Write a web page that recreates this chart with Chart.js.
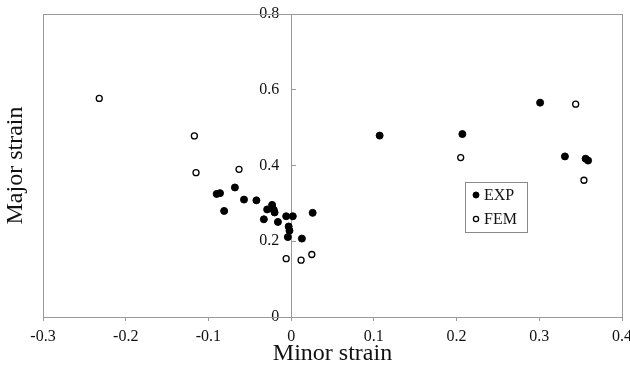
<!DOCTYPE html>
<html>
<head>
<meta charset="utf-8">
<script src="https://cdn.jsdelivr.net/npm/chart.js@4/dist/chart.umd.min.js"></script>
<style>
  html, body { margin: 0; padding: 0; background: #fff; }
  #wrap { width: 630px; height: 373px; position: relative; }
</style>
</head>
<body>
<div id="wrap"><canvas id="c" width="630" height="373"></canvas></div>
<script>
// ---- Data ----
const seriesNames = ["EXP", "FEM"];

const expMinor = [-0.090, -0.086, -0.068, -0.081, -0.057, -0.042, -0.023, -0.029, -0.021, -0.020,
                  -0.033, -0.016, -0.006, 0.002, -0.003, -0.002, -0.004, 0.013, 0.026,
                  0.107, 0.207, 0.301, 0.331, 0.356, 0.359];
const expMajor = [0.325, 0.327, 0.342, 0.280, 0.310, 0.308, 0.296, 0.284, 0.283, 0.276,
                  0.258, 0.251, 0.266, 0.266, 0.239, 0.228, 0.211, 0.207, 0.275,
                  0.479, 0.483, 0.566, 0.424, 0.418, 0.413];

const femMinor = [-0.232, -0.117, -0.115, -0.063, -0.006, 0.012, 0.025, 0.205, 0.344, 0.354];
const femMajor = [0.577, 0.478, 0.381, 0.390, 0.154, 0.150, 0.165, 0.421, 0.562, 0.361];

const xTicks = [-0.3, -0.2, -0.1, 0, 0.1, 0.2, 0.3, 0.4];
const yTicks = [0, 0.2, 0.4, 0.6, 0.8];
const xTitle = "Minor strain";
const yTitle = "Major strain";

// ---- Build ----
const toPts = (xs, ys) => xs.map((x, i) => ({ x: x, y: ys[i] }));
const SERIF = "'Liberation Serif', 'DejaVu Serif', serif";
const AXIS_GRAY = '#9a9a9a';
const Y_LABEL_GAP = 12;   // distance between centred y-axis line and its tick labels

const frame = {
  id: 'frame',
  afterDraw(chart) {
    const a = chart.chartArea, ctx = chart.ctx;
    ctx.save();
    ctx.strokeStyle = AXIS_GRAY;
    ctx.lineWidth = 1;
    ctx.strokeRect(Math.round(a.left) + 0.5, Math.round(a.top) + 0.5,
                   Math.round(a.right - a.left), Math.round(a.bottom - a.top));
    ctx.restore();
  }
};

// push the labels of the centred y axis a little to the left of the axis line
const shiftYLabels = {
  id: 'shiftYLabels',
  beforeDraw(chart) {
    const s = chart.scales.y;
    const items = s.getLabelItems(chart.chartArea);
    if (items._shifted) return;
    items.forEach(it => { it.options.translation[0] -= Y_LABEL_GAP; });
    items._shifted = true;
  }
};

const boxLegend = {
  id: 'boxLegend',
  afterDraw(chart) {
    const ctx = chart.ctx;
    const bx = 465, by = 182, bw = 62, bh = 50;
    ctx.save();
    ctx.fillStyle = '#fff';
    ctx.fillRect(bx, by, bw, bh);
    ctx.strokeStyle = '#8a8a8a';
    ctx.lineWidth = 1;
    ctx.strokeRect(bx + 0.5, by + 0.5, bw, bh);
    ctx.font = "16px " + SERIF;
    ctx.textBaseline = 'middle';
    ctx.textAlign = 'left';
    chart.data.datasets.forEach((ds, i) => {
      const cy = by + 13 + i * 24;
      const cx = bx + 11;
      ctx.beginPath();
      ctx.arc(cx, cy, i === 0 ? 3 : 2.6, 0, Math.PI * 2);
      ctx.fillStyle = ds.backgroundColor;
      ctx.fill();
      ctx.lineWidth = ds.borderWidth;
      ctx.strokeStyle = ds.borderColor;
      ctx.stroke();
      ctx.fillStyle = '#111';
      ctx.fillText(ds.label, bx + 19, cy + 1);
    });
    ctx.restore();
  }
};

new Chart(document.getElementById('c'), {
  type: 'scatter',
  data: {
    datasets: [
      { label: seriesNames[0], data: toPts(expMinor, expMajor),
        backgroundColor: '#000', borderColor: '#000', borderWidth: 1,
        pointRadius: 3.5, pointHoverRadius: 3.5 },
      { label: seriesNames[1], data: toPts(femMinor, femMajor),
        backgroundColor: '#fff', borderColor: '#000', borderWidth: 1.3,
        pointRadius: 3, pointHoverRadius: 3 }
    ]
  },
  options: {
    responsive: false,
    animation: false,
    layout: { padding: { top: 14, right: 8, left: 0, bottom: 0 } },
    plugins: { legend: { display: false }, tooltip: { enabled: false } },
    scales: {
      x: {
        type: 'linear', position: 'bottom', min: -0.3, max: 0.4,
        afterBuildTicks(s) { s.ticks = xTicks.map(v => ({ value: v })); },
        afterFit(s) { s.height = 56; s.paddingLeft = 0; s.paddingRight = 0; },
        ticks: { font: { family: SERIF, size: 16 }, color: '#111', padding: 6,
                 callback: v => String(v) },
        grid: { drawOnChartArea: false, drawTicks: true, tickLength: 4, color: AXIS_GRAY },
        border: { display: true, color: AXIS_GRAY },
        title: { display: true, text: xTitle, font: { family: SERIF, size: 24 },
                 color: '#111', padding: { top: 0, bottom: 5 } }
      },
      yl: {
        type: 'linear', position: 'left', min: 0, max: 0.8, axis: 'y',
        afterFit(s) { s.width = 43; s.paddingTop = 0; s.paddingBottom = 0; },
        ticks: { display: false },
        grid: { display: false },
        border: { display: true, color: AXIS_GRAY },
        title: { display: true, text: yTitle, font: { family: SERIF, size: 24 },
                 color: '#111', padding: { top: 1, bottom: 0 } }
      },
      y: {
        type: 'linear', position: { x: 0 }, min: 0, max: 0.8,
        afterBuildTicks(s) { s.ticks = yTicks.map(v => ({ value: v })); },
        afterFit(s) { s.paddingTop = 0; s.paddingBottom = 0; },
        ticks: { font: { family: SERIF, size: 16 }, color: '#111',
                 callback: v => String(v) },
        grid: { drawOnChartArea: false, drawTicks: true, tickLength: -5, color: AXIS_GRAY },
        border: { display: true, color: AXIS_GRAY }
      }
    }
  },
  plugins: [frame, shiftYLabels, boxLegend]
});
</script>
</body>
</html>
